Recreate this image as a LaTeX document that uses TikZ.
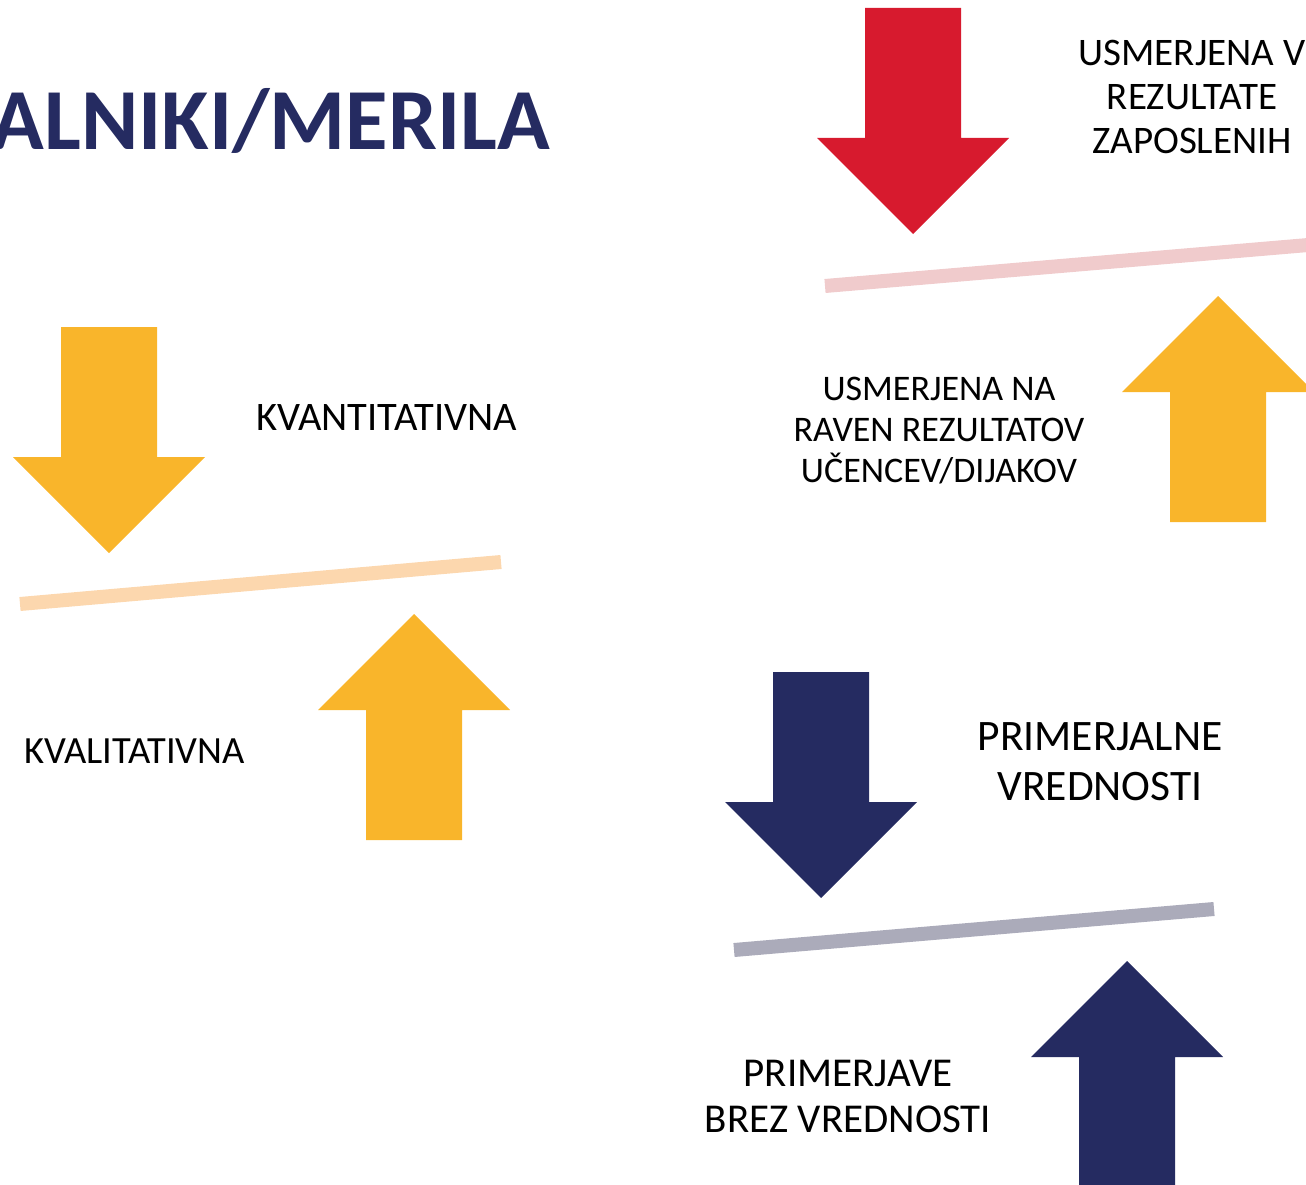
\documentclass[tikz,border=0pt]{standalone}
\usepackage{fontspec}
\setmainfont{Carlito}
\definecolor{arrowyellow}{HTML}{F9B52B}
\definecolor{arrowred}{HTML}{D71A2E}
\definecolor{arrownavy}{HTML}{252B61}
\definecolor{barpeach}{HTML}{FCD7AE}
\definecolor{barpink}{HTML}{F0CBCC}
\definecolor{bargray}{HTML}{ABABBA}
\begin{document}
\begin{tikzpicture}[x=1pt,y=-1pt]
\tikzstyle{label}=[inner sep=0pt, align=center, text=black]
\tikzstyle{bar}=[line width=14pt]
\tikzstyle{yellowarrow}=[fill=arrowyellow]
\tikzstyle{redarrow}=[fill=arrowred]
\tikzstyle{navyarrow}=[fill=arrownavy]

\useasboundingbox (0,0) rectangle (1306,1185);

% Title
\node[anchor=base east, inner sep=0pt, text=arrownavy, font=\fontsize{87}{100}\selectfont\bfseries] (title) at (550,150) {ALNIKI/MERILA};

% Balance bars
\draw[bar, barpeach] (20,604) -- (501,562);
\draw[bar, barpink] (825,286) -- (1320,244);
\draw[bar, bargray] (734,950) -- (1214,909);

% Down arrows (drawn from the tip)
\fill[yellowarrow] (109,553) -- ++(96,-96) -- ++(-48,0) -- ++(0,-130) -- ++(-96,0) -- ++(0,130) -- ++(-48,0) -- cycle;
\fill[redarrow] (913,234) -- ++(96,-96) -- ++(-48,0) -- ++(0,-130) -- ++(-96,0) -- ++(0,130) -- ++(-48,0) -- cycle;
\fill[navyarrow] (821,898) -- ++(96,-96) -- ++(-48,0) -- ++(0,-130) -- ++(-96,0) -- ++(0,130) -- ++(-48,0) -- cycle;

% Up arrows (drawn from the tip)
\fill[yellowarrow] (414,614) -- ++(96,96) -- ++(-48,0) -- ++(0,130) -- ++(-96,0) -- ++(0,-130) -- ++(-48,0) -- cycle;
\fill[yellowarrow] (1218,296) -- ++(96,96) -- ++(-48,0) -- ++(0,130) -- ++(-96,0) -- ++(0,-130) -- ++(-48,0) -- cycle;
\fill[navyarrow] (1127,961) -- ++(96,96) -- ++(-48,0) -- ++(0,130) -- ++(-96,0) -- ++(0,-130) -- ++(-48,0) -- cycle;

% Labels
\node[label, anchor=north, font=\fontsize{39}{44}\selectfont] (zaposleni) at (1192,40) {USMERJENA V\\REZULTATE\\ZAPOSLENIH};
\node[label, anchor=north, font=\fontsize{36}{41}\selectfont] (ucenci) at (939,377) {USMERJENA NA\\RAVEN REZULTATOV\\UČENCEV/DIJAKOV};
\node[label, anchor=base west, font=\fontsize{40.5}{46}\selectfont] (kvant) at (256,430) {KVANTITATIVNA};
\node[label, anchor=base west, font=\fontsize{38.5}{46}\selectfont] (kval) at (24,763) {KVALITATIVNA};
\node[label, anchor=north, font=\fontsize{43.5}{50}\selectfont] (primerjalne) at (1100,722) {PRIMERJALNE\\VREDNOSTI};
\node[label, anchor=north, font=\fontsize{41}{46}\selectfont] (primerjave) at (848,1060) {PRIMERJAVE\\BREZ VREDNOSTI};
\end{tikzpicture}
\end{document}
